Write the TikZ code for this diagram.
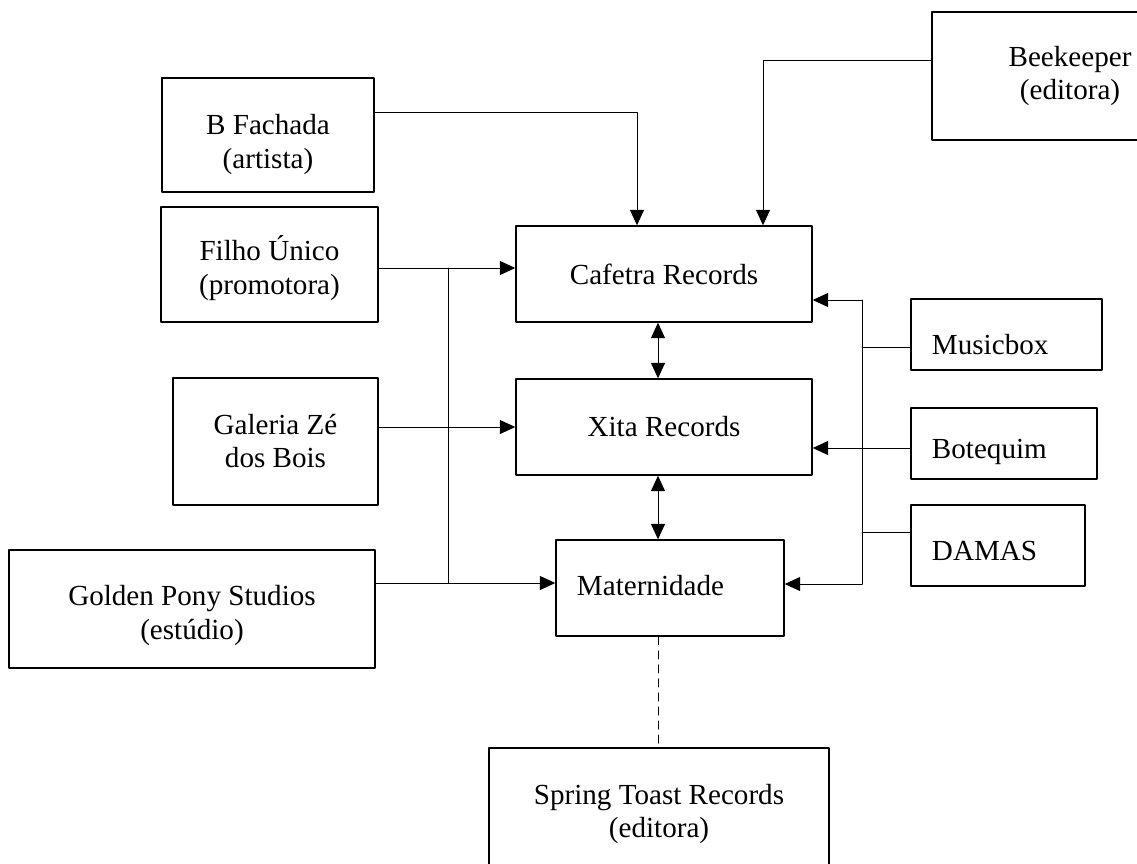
\documentclass[tikz,border=0pt]{standalone}
\usepackage{fontspec}
\setmainfont{Liberation Serif}
\usetikzlibrary{arrows.meta}
\newcommand{\boxfont}{\fontsize{20.7}{24}\selectfont}
\newcommand{\lowtext}[2]{\raisebox{-#1}[\height][\depth]{\begin{tabular}{@{}c@{}}#2\end{tabular}}}

\begin{document}
\begin{tikzpicture}[line cap=round,line join=round,>={Triangle[length=11pt,width=10pt]},x=0.025cm,y=-0.025cm,
		box/.style={draw,line width=1pt,align=center,inner sep=0pt,font=\boxfont},
		sidebox/.style={box,align=left,inner xsep=0.525cm,inner ysep=0pt},
		wire/.style={line width=0.7pt}]
		\useasboundingbox (0,0) rectangle (1137,863);
		\clip (0,0) rectangle (1137,863);
		%%%%%%%%%%%%%%% B O X E S %%%%%%%%%%%%%%%%
		%top
		\node[box,minimum width=5.3cm,minimum height=2.85cm] (fachada) at (268,135) {\lowtext{7pt}{B Fachada\\(artista)}};
		\node[box,minimum width=6.9cm,minimum height=3.2cm] (beekeeper) at (1070,76) {Beekeeper\\(editora)};
		%left column
		\node[box,minimum width=5.425cm,minimum height=2.875cm] (filho) at (269.5,264.5) {\lowtext{4pt}{Filho Único\\(promotora)}};
		\node[box,minimum width=5.125cm,minimum height=3.175cm] (galeria) at (275.5,441.5) {\lowtext{2pt}{Galeria Zé\\dos Bois}};
		\node[box,minimum width=9.15cm,minimum height=2.95cm] (golden) at (192,609) {\lowtext{5pt}{Golden Pony Studios\\(estúdio)}};
		%middle column
		\node[box,minimum width=7.4cm,minimum height=2.4cm] (cafetra) at (664,274) {Cafetra Records};
		\node[box,minimum width=7.4cm,minimum height=2.4cm] (xita) at (664,427) {Xita Records};
		\node[sidebox,text width=4.65cm,minimum height=2.4cm] (maternidade) at (670,588) {\raisebox{2pt}[\height][\depth]{Maternidade}};
		\node[box,minimum width=8.5cm,minimum height=3.3cm] (spring) at (659,814) {Spring Toast Records\\(editora)};
		%right column
		\node[sidebox,text width=3.725cm,minimum height=1.775cm] (musicbox) at (1006.5,334.5) {\raisebox{-7pt}[\height][\depth]{Musicbox}};
		\node[sidebox,text width=3.6cm,minimum height=1.775cm] (botequim) at (1004,443.5) {\raisebox{-6pt}[\height][\depth]{Botequim}};
		\node[sidebox,text width=3.3cm,minimum height=2.025cm] (damas) at (998,545.5) {\raisebox{-4pt}[\height][\depth]{DAMAS}};
		%%%%%%%%%%%%%%% L I N K S %%%%%%%%%%%%%%%%
		%bus lines
		\coordinate (lbus top) at (448,268);
		\coordinate (lbus bot) at (448,583);
		\coordinate (rbus top) at (862,300);
		\coordinate (rbus bot) at (862,584);
		%from the top
		\draw[wire,->] (fachada.east |- 0,112) -| (637,0 |- cafetra.north);
		\draw[wire,->] (beekeeper.west |- 0,60) -| (763,0 |- cafetra.north);
		%from the left
		\draw[wire,->] (filho.east |- lbus top) -- (cafetra.west |- lbus top);
		\draw[wire,->] (galeria.east |- xita.west) -- (xita.west);
		\draw[wire,->] (golden.east |- lbus bot) -- (maternidade.west |- lbus bot);
		\draw[wire] (lbus top) -- (lbus bot);
		%from the right
		\draw[wire] (rbus top) -- (rbus bot);
		\draw[wire,->] (rbus top) -- (cafetra.east |- rbus top);
		\draw[wire,->] (rbus bot) -- (maternidade.east |- rbus bot);
		\draw[wire] (musicbox.west |- 0,347) -- (rbus top |- 0,347);
		\draw[wire,->] (botequim.west |- 0,448) -- (xita.east |- 0,448);
		\draw[wire] (damas.west |- 0,532) -- (rbus top |- 0,532);
		%middle
		\draw[wire,<->] (cafetra.south -| 658,0) -- (xita.north -| 658,0);
		\draw[wire,<->] (xita.south -| 658,0) -- (maternidade.north -| 658,0);
		\draw[wire,dash pattern=on 5.7pt off 4.3pt] (maternidade.south -| 658,0) -- (spring.north -| 658,0);
	\end{tikzpicture}
\end{document}
